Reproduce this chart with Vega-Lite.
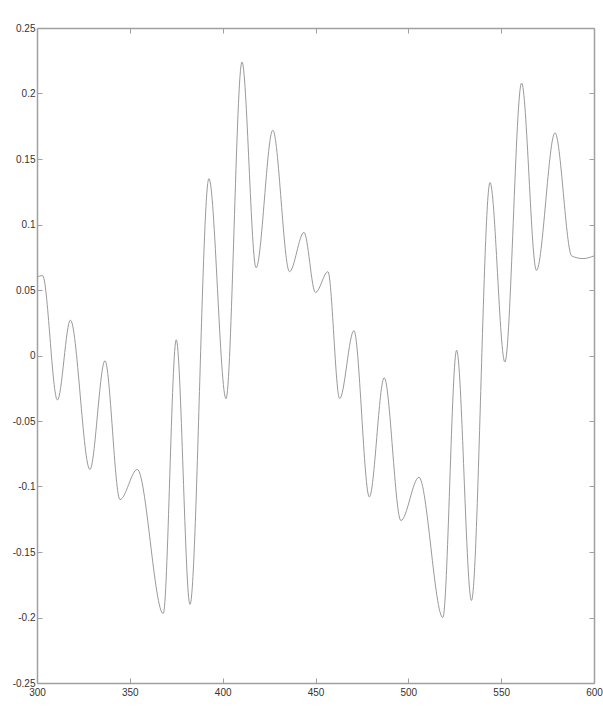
{
  "$schema": "https://vega.github.io/schema/vega-lite/v6.json",
  "autosize": "none",
  "width": 557,
  "height": 655,
  "padding": {"left": 37, "top": 28, "right": 9, "bottom": 23},
  "background": "white",
  "config": {
    "view": {"stroke": null},
    "axis": {
      "grid": false,
      "domainColor": "#a0a0a0",
      "domainWidth": 1.5,
      "tickColor": "#a0a0a0",
      "tickSize": -5,
      "labelFont": "Liberation Sans",
      "labelFontSize": 10,
      "labelColor": "#333333",
      "titleFontSize": 0
    }
  },
  "data": {
    "values": [
      {"x": 300, "y": 0.060},
      {"x": 303, "y": 0.061},
      {"x": 311, "y": -0.034},
      {"x": 318, "y": 0.027},
      {"x": 328.5, "y": -0.087},
      {"x": 336.6, "y": -0.004},
      {"x": 344.7, "y": -0.110},
      {"x": 354, "y": -0.087},
      {"x": 368, "y": -0.197},
      {"x": 375, "y": 0.012},
      {"x": 382.4, "y": -0.190},
      {"x": 392.6, "y": 0.135},
      {"x": 401.8, "y": -0.033},
      {"x": 410.4, "y": 0.224},
      {"x": 418, "y": 0.067},
      {"x": 427, "y": 0.172},
      {"x": 436, "y": 0.064},
      {"x": 443.8, "y": 0.094},
      {"x": 450, "y": 0.048},
      {"x": 456.7, "y": 0.064},
      {"x": 463, "y": -0.033},
      {"x": 470.7, "y": 0.019},
      {"x": 479, "y": -0.108},
      {"x": 487, "y": -0.017},
      {"x": 496, "y": -0.126},
      {"x": 505.7, "y": -0.093},
      {"x": 518.6, "y": -0.200},
      {"x": 526, "y": 0.004},
      {"x": 534, "y": -0.187},
      {"x": 544, "y": 0.132},
      {"x": 552, "y": -0.005},
      {"x": 561, "y": 0.208},
      {"x": 569, "y": 0.065},
      {"x": 579, "y": 0.170},
      {"x": 588, "y": 0.076},
      {"x": 594, "y": 0.074},
      {"x": 600, "y": 0.076}
    ]
  },
  "layer": [
    {
      "mark": {"type": "line", "interpolate": "monotone", "color": "#9a9a9a", "strokeWidth": 1},
      "encoding": {
        "x": {
          "field": "x", "type": "quantitative",
          "scale": {"domain": [300, 600], "nice": false, "zero": false},
          "axis": {"orient": "bottom", "title": null, "values": [300, 350, 400, 450, 500, 550, 600], "labelPadding": 9, "labelFlush": false}
        },
        "y": {
          "field": "y", "type": "quantitative",
          "scale": {"domain": [-0.25, 0.25], "nice": false, "zero": false},
          "axis": {"orient": "left", "title": null, "values": [-0.25, -0.2, -0.15, -0.1, -0.05, 0, 0.05, 0.1, 0.15, 0.2, 0.25], "labelExpr": "'' + datum.value", "labelPadding": 7, "labelFlush": false}
        }
      }
    },
    {
      "mark": {"type": "line", "opacity": 0},
      "encoding": {
        "x": {
          "field": "x", "type": "quantitative",
          "scale": {"domain": [300, 600], "nice": false, "zero": false},
          "axis": {"orient": "top", "title": null, "labels": false, "values": [300, 350, 400, 450, 500, 550, 600]}
        },
        "y": {
          "field": "y", "type": "quantitative",
          "scale": {"domain": [-0.25, 0.25], "nice": false, "zero": false},
          "axis": {"orient": "right", "title": null, "labels": false, "values": [-0.25, -0.2, -0.15, -0.1, -0.05, 0, 0.05, 0.1, 0.15, 0.2, 0.25]}
        }
      }
    }
  ],
  "resolve": {"axis": {"x": "independent", "y": "independent"}}
}
